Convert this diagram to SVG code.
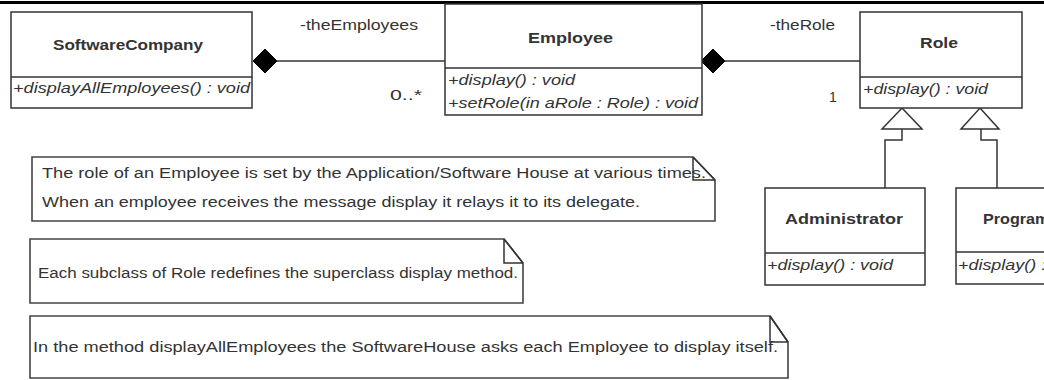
<svg xmlns="http://www.w3.org/2000/svg" width="1044" height="380" viewBox="0 0 1044 380">
  <defs>
    <style>
      .box { fill: #fff; stroke: #333; stroke-width: 1.5; }
      .sep { stroke: #333; stroke-width: 1.5; fill: none; }
      .note { fill: #fff; stroke: #444; stroke-width: 1.6; }
      .fold { fill: none; stroke: #333; stroke-width: 1.5; }
      .link { fill: none; stroke: #333; stroke-width: 1.5; }
      .comp { fill: #000; stroke: #000; stroke-width: 1; }
      .gen { fill: #fff; stroke: #333; stroke-width: 1.5; }
      .t { font-family: "Liberation Sans", Arial, sans-serif; font-size: 14px; fill: #333; }
      .b { font-weight: bold; }
      .i { font-style: italic; }
    </style>
  </defs>

  <rect width="1044" height="380" fill="#fff"/>
  <!-- frame rule along the top -->
  <rect x="0" y="1" width="1044" height="3" fill="#000"/>

  <!-- connectors -->
  <g id="connectors">
    <!-- composition: SoftwareCompany -> Employee -->
    <line class="link" x1="277" y1="61" x2="445" y2="61"/>
    <polygon class="comp" points="253,61 265,49 277,61 265,73"/>
    <text class="t" x="300" y="30" textLength="118" lengthAdjust="spacingAndGlyphs">-theEmployees</text>
    <text class="t" x="390" y="100" textLength="32" lengthAdjust="spacingAndGlyphs">0..*</text>

    <!-- composition: Employee -> Role -->
    <line class="link" x1="725" y1="61" x2="860" y2="61"/>
    <polygon class="comp" points="701,61 713,49 725,61 713,73"/>
    <text class="t" x="770" y="30" textLength="65" lengthAdjust="spacingAndGlyphs">-theRole</text>
    <text class="t" x="829" y="102">1</text>

    <!-- generalization: Administrator -> Role -->
    <polyline class="link" points="885,188 885,140 902,140 902,129"/>
    <polygon class="gen" points="902,108 922,129 882,129"/>

    <!-- generalization: Programmer -> Role -->
    <polyline class="link" points="997,188 997,140 981,140 981,129"/>
    <polygon class="gen" points="980,108 999,129 961,129"/>
  </g>

  <!-- classes -->
  <g id="SoftwareCompany">
    <rect class="box" x="11" y="12" width="241" height="96"/>
    <line class="sep" x1="11" y1="77" x2="252" y2="77"/>
    <text class="t b" x="53" y="50" textLength="150" lengthAdjust="spacingAndGlyphs">SoftwareCompany</text>
    <text class="t i" x="13" y="93" textLength="237" lengthAdjust="spacingAndGlyphs">+displayAllEmployees() : void</text>
  </g>

  <g id="Employee">
    <rect class="box" x="445" y="4" width="257" height="111"/>
    <line class="sep" x1="445" y1="68" x2="702" y2="68"/>
    <text class="t b" x="528" y="43" textLength="85" lengthAdjust="spacingAndGlyphs">Employee</text>
    <text class="t i" x="448" y="85" textLength="127" lengthAdjust="spacingAndGlyphs">+display() : void</text>
    <text class="t i" x="448" y="108" textLength="250" lengthAdjust="spacingAndGlyphs">+setRole(in aRole : Role) : void</text>
  </g>

  <g id="Role">
    <rect class="box" x="860" y="12" width="162" height="96"/>
    <line class="sep" x1="860" y1="77" x2="1022" y2="77"/>
    <text class="t b" x="920" y="48" textLength="38" lengthAdjust="spacingAndGlyphs">Role</text>
    <text class="t i" x="863" y="94" textLength="125" lengthAdjust="spacingAndGlyphs">+display() : void</text>
  </g>

  <g id="Administrator">
    <rect class="box" x="765" y="188" width="160" height="97"/>
    <line class="sep" x1="765" y1="253" x2="925" y2="253"/>
    <text class="t b" x="785" y="224" textLength="118" lengthAdjust="spacingAndGlyphs">Administrator</text>
    <text class="t i" x="767" y="270" textLength="126" lengthAdjust="spacingAndGlyphs">+display() : void</text>
  </g>

  <!-- this class runs past the right edge of the sheet -->
  <g id="Programmer">
    <rect class="box" x="956" y="188" width="160" height="96"/>
    <line class="sep" x1="956" y1="252" x2="1116" y2="252"/>
    <text class="t b" x="983" y="224" textLength="96" lengthAdjust="spacingAndGlyphs">Programmer</text>
    <text class="t i" x="958" y="270" textLength="126" lengthAdjust="spacingAndGlyphs">+display() : void</text>
  </g>

  <!-- notes -->
  <g id="note-role">
    <path class="note" d="M32,157 H693 L715,180 V221 H32 Z"/>
    <text class="t" x="42" y="178" textLength="664" lengthAdjust="spacingAndGlyphs">The role of an Employee is set by the Application/Software House at various times.</text>
    <text class="t" x="42" y="207" textLength="598" lengthAdjust="spacingAndGlyphs">When an employee receives the message display it relays it to its delegate.</text>
    <path class="fold" d="M693,157 V180 H715 M693,157 L715,180"/>
  </g>

  <g id="note-subclass">
    <path class="note" d="M30,239 H504 L523,263 V303 H30 Z"/>
    <text class="t" x="38" y="278" textLength="480" lengthAdjust="spacingAndGlyphs">Each subclass of Role redefines the superclass display method.</text>
    <path class="fold" d="M504,239 V263 H523 M504,239 L523,263"/>
  </g>

  <g id="note-display">
    <path class="note" d="M30,316 H770 L788,342 V378 H30 Z"/>
    <text class="t" x="33" y="352" textLength="745" lengthAdjust="spacingAndGlyphs">In the method displayAllEmployees the SoftwareHouse asks each Employee to display itself.</text>
    <path class="fold" d="M770,316 V342 H788 M770,316 L788,342"/>
  </g>
</svg>
